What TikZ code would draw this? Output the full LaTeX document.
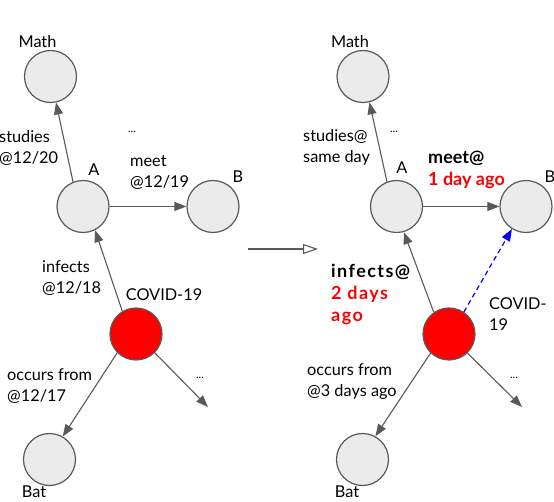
\documentclass[tikz,border=0pt]{standalone}
\usepackage{fontspec}
\setmainfont{Lato}
\usetikzlibrary{arrows.meta}
\definecolor{edgegray}{HTML}{595959}
\definecolor{nodefill}{HTML}{EBEBEB}
\definecolor{hotred}{HTML}{FF0000}
\definecolor{linkblue}{HTML}{0000FF}
\begin{document}
\begin{tikzpicture}[x=1pt,y=-1pt,
  ent/.style={circle,draw=edgegray,line width=1.2pt,fill=nodefill,minimum size=52pt,inner sep=0pt},
  virus/.style={ent,fill=hotred},
  lbl/.style={font=\fontsize{16.3}{21}\selectfont,align=left,inner sep=0pt,text=black},
  dots/.style={lbl,font=\fontsize{11}{12}\selectfont},
  boldlbl/.style={lbl,font=\fontsize{18}{22}\selectfont\bfseries},
  widebold/.style={lbl,font=\fontsize{18}{22}\selectfont\bfseries\addfontfeatures{LetterSpace=8}},
  rel/.style={draw=edgegray,line width=1.1pt,-{Triangle[length=12pt,width=9pt]}},
  inferred/.style={draw=linkblue,line width=1.2pt,dash pattern=on 5pt off 3.5pt,-{Triangle[length=12pt,width=9pt]}},
  shift arrow/.style={draw=edgegray,line width=1.1pt,-{Triangle[open,length=15pt,width=10pt,fill=white]}}
]
\useasboundingbox (0,0) rectangle (554,502);

% ---------- left graph ----------
\node[ent] (mathL) at (50.5,76.5) {};
\node[ent] (aL) at (83,206.5) {};
\node[ent] (bL) at (213,206.5) {};
\node[virus] (covL) at (136,334) {};
\node[ent] (batL) at (49.5,459.5) {};
\coordinate (eL) at (208,407);

\node[lbl] (tMathL) at (37.5,42) {Math};
\node[lbl] (tAL) at (94,170) {A};
\node[lbl] (tBL) at (238,177) {B};
\node[dots] (tDotsL1) at (132,132) {...};
\node[lbl,anchor=west] (tStudL) at (-1,147.5) {studies\\@12/20};
\node[lbl,anchor=west] (tMeetL) at (130,173) {meet\\@12/19};
\node[lbl] (tCovL) at (164,295) {COVID-19};
\node[lbl,anchor=west] (tInfL) at (42,278) {infects\\@12/18};
\node[lbl,anchor=west] (tOccL) at (7,386.5) {occurs from\\@12/17};
\node[dots] (tDotsL2) at (200,378) {...};
\node[lbl] (tBatL) at (34,492) {Bat};

\draw[rel] (aL.112) -- (mathL.-78);
\draw[rel] (aL) -- (bL);
\draw[rel] (covL.121) -- (aL.-63);
\draw[rel] (covL.225) -- (batL.60);
\draw[rel] (covL.-45) -- (eL);

% ---------- middle arrow ----------
\coordinate (m1) at (248,249);
\coordinate (m2) at (318,249);
\draw[shift arrow] (m1) -- (m2);

% ---------- right graph ----------
\node[ent] (mathR) at (363,76.5) {};
\node[ent] (aR) at (396.5,206.5) {};
\node[ent] (bR) at (526,206.5) {};
\node[virus] (covR) at (449,334) {};
\node[ent] (batR) at (362.5,459.5) {};
\coordinate (eR) at (522,407);

\node[lbl] (tMathR) at (350,42) {Math};
\node[lbl] (tAR) at (402,168) {A};
\node[lbl] (tBR) at (550,177) {B};
\node[dots] (tDotsR1) at (394,132) {...};
\node[lbl,anchor=west] (tStudR) at (303,147.5) {studies@\\same day};
\node[boldlbl,anchor=west] (tMeetR) at (428,170) {meet@\\\textcolor{hotred}{1 day ago}};
\node[lbl,anchor=west] (tCovR) at (489,314) {COVID-\\19};
\node[widebold,anchor=west] (tInfR) at (331,294) {infects@\\\textcolor{hotred}{2 days}\\\textcolor{hotred}{ago}};
\node[lbl,anchor=west] (tOccR) at (307,381.5) {occurs from\\@3 days ago};
\node[dots] (tDotsR2) at (514,378) {...};
\node[lbl] (tBatR) at (347,492) {Bat};

\draw[rel] (aR.111) -- (mathR.-76);
\draw[rel] (aR) -- (bR);
\draw[rel] (covR.125) -- (aR.-74);
\draw[rel] (covR.226) -- (batR.61);
\draw[rel] (covR.-46) -- (eR);
\draw[inferred] (covR.56) -- (bR.-122);
\end{tikzpicture}
\end{document}
